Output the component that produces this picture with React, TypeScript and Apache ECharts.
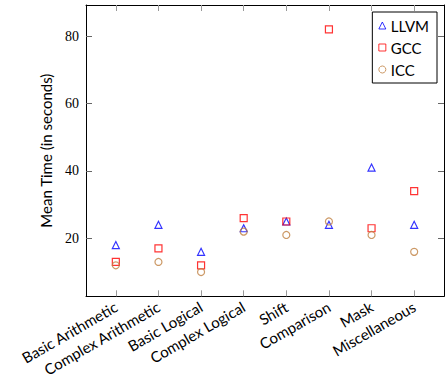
import React, { useEffect, useRef } from "react";
import * as echarts from "echarts";

const categories = [
  "Basic Arithmetic",
  "Complex Arithmetic",
  "Basic Logical",
  "Complex Logical",
  "Shift",
  "Comparison",
  "Mask",
  "Miscellaneous",
];
const llvm = [18, 24, 16, 23, 25, 24, 41, 24];
const gcc = [13, 17, 12, 26, 25, 82, 23, 34];
const icc = [12, 13, 10, 22, 21, 25, 21, 16];
const yTicks = [20, 40, 60, 80];

const seriesDefs = [
  { name: "LLVM", data: llvm, color: "#0000ff", symbol: "triangle", size: 7 },
  { name: "GCC", data: gcc, color: "#ff0000", symbol: "rect", size: 7 },
  { name: "ICC", data: icc, color: "#bf8040", symbol: "circle", size: 7 },
];

export default function App() {
  const ref = useRef<HTMLDivElement>(null);
  useEffect(() => {
    if (!ref.current) return;
    const chart = echarts.init(ref.current, undefined, { renderer: "svg" });
    const idx = categories.map((_, i) => i);
    const xBase = {
      type: "value" as const,
      min: -0.7,
      max: 7.7,
      splitLine: { show: false },
      axisLine: { show: true, onZero: false, lineStyle: { color: "#000", width: 1 } },
      axisTick: {
        show: true,
        inside: true,
        length: 6,
        customValues: idx,
        lineStyle: { color: "#999", width: 1 },
      },
    };
    const yBase = {
      type: "value" as const,
      min: 2.8,
      max: 89.2,
      splitLine: { show: false },
      axisLine: { show: true, onZero: false, lineStyle: { color: "#000", width: 1 } },
      axisTick: {
        show: true,
        inside: true,
        length: 6,
        customValues: yTicks,
        lineStyle: { color: "#666", width: 1 },
      },
    };
    chart.setOption({
      animation: false,
      backgroundColor: "#fff",
      grid: { left: 86, right: 1, top: 5, bottom: 75, containLabel: false },
      xAxis: [
        {
          ...xBase,
          position: "bottom",
          axisLabel: {
            show: true,
            customValues: idx,
            rotate: 30,
            margin: 9,
            fontFamily: "Lato",
            fontSize: 15,
            color: "#000",
            formatter: (v: number) => categories[Math.round(v)] ?? "",
          },
        },
        { ...xBase, position: "top", axisLabel: { show: false } },
      ],
      yAxis: [
        {
          ...yBase,
          position: "left",
          name: "Mean Time (in seconds)",
          nameLocation: "middle",
          nameGap: 33,
          nameTextStyle: { fontFamily: "Lato", fontSize: 15, color: "#000" },
          axisLabel: {
            show: true,
            customValues: yTicks,
            margin: 7,
            fontFamily: "'Liberation Serif', serif",
            fontSize: 14,
            color: "#000",
          },
        },
        { ...yBase, position: "right", axisLabel: { show: false } },
      ],
      legend: {
        orient: "vertical",
        right: 8,
        top: 12,
        backgroundColor: "#fff",
        borderColor: "#000",
        borderWidth: 1,
        borderRadius: 0,
        padding: [6, 8, 6, 6],
        itemGap: 7,
        itemWidth: 7,
        itemHeight: 7,
        textStyle: { fontFamily: "Lato", fontSize: 15, color: "#000" },
        data: seriesDefs.map((s) => ({
          name: s.name,
          icon: s.symbol,
          itemStyle: { color: "transparent", borderColor: s.color, borderWidth: 1 },
        })),
      },
      series: seriesDefs.map((s) => ({
        name: s.name,
        type: "scatter",
        xAxisIndex: 0,
        yAxisIndex: 0,
        symbol: s.symbol,
        symbolSize: s.size,
        itemStyle: { color: "transparent", borderColor: s.color, borderWidth: 1.2 },
        data: s.data.map((v, i) => [i, v]),
      })),
    });
    return () => chart.dispose();
  }, []);
  return <div ref={ref} style={{ width: 445, height: 379, position: "absolute", left: 0, top: 0 }} />;
}
